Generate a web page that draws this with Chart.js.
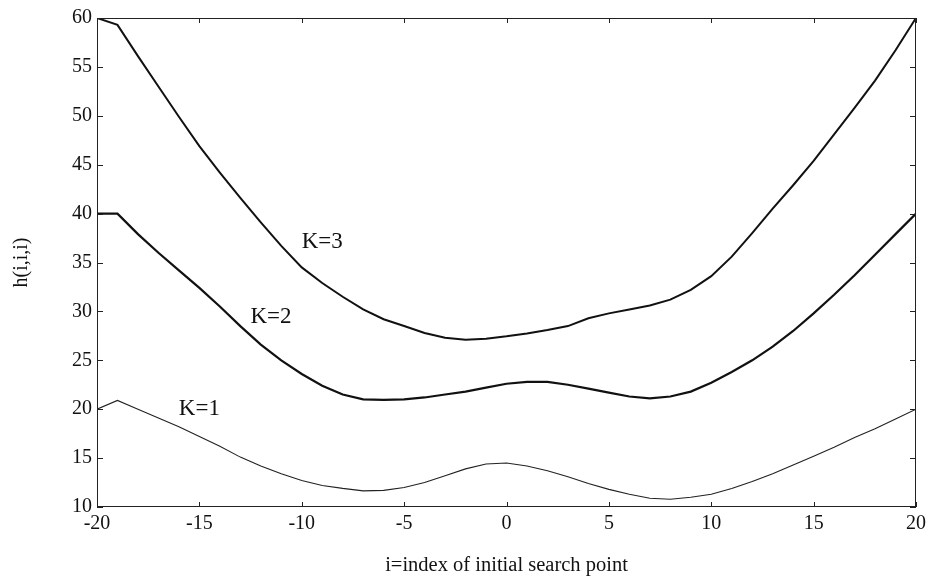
<!DOCTYPE html>
<html>
<head>
<meta charset="utf-8">
<script src="https://cdn.jsdelivr.net/npm/chart.js@4"></script>
<style>
  html, body { margin: 0; padding: 0; background: #fff; }
</style>
</head>
<body>
<canvas id="hChart" width="931" height="584"></canvas>
<script>
// i = index of initial search point
let iValues = [-20, -19, -18, -17, -16, -15, -14, -13, -12, -11, -10, -9, -8, -7, -6, -5, -4, -3, -2, -1,
               0, 1, 2, 3, 4, 5, 6, 7, 8, 9, 10, 11, 12, 13, 14, 15, 16, 17, 18, 19, 20];

let k1Data = [20.0, 20.9, 20.0, 19.1, 18.2, 17.2, 16.2, 15.1, 14.2, 13.4, 12.7, 12.2, 11.9, 11.65, 11.7, 12.0, 12.5, 13.2, 13.9, 14.4,
              14.5, 14.2, 13.7, 13.1, 12.4, 11.8, 11.3, 10.9, 10.8, 11.0, 11.3, 11.9, 12.6, 13.4, 14.3, 15.2, 16.1, 17.1, 18.0, 19.0, 20.0];

let k2Data = [40.0, 40.0, 37.9, 36.0, 34.2, 32.4, 30.5, 28.5, 26.6, 25.0, 23.6, 22.4, 21.5, 21.0, 20.95, 21.0, 21.2, 21.5, 21.8, 22.2,
              22.6, 22.8, 22.8, 22.5, 22.1, 21.7, 21.3, 21.1, 21.3, 21.8, 22.7, 23.8, 25.0, 26.4, 28.0, 29.8, 31.7, 33.7, 35.8, 37.9, 40.0];

let k3Data = [60.0, 59.3, 56.1, 53.0, 49.9, 46.9, 44.2, 41.6, 39.1, 36.7, 34.5, 32.9, 31.5, 30.2, 29.2, 28.5, 27.8, 27.3, 27.1, 27.2,
              27.45, 27.75, 28.1, 28.5, 29.3, 29.8, 30.2, 30.6, 31.2, 32.2, 33.6, 35.6, 38.0, 40.5, 42.9, 45.4, 48.1, 50.8, 53.6, 56.7, 60.0];

let xTicks = [-20, -15, -10, -5, 0, 5, 10, 15, 20];
let yTicks = [10, 15, 20, 25, 30, 35, 40, 45, 50, 55, 60];

// curve labels, placed in data coordinates
let curveLabels = [
    { text: 'K=3', x: -9.0, y: 37.1 },
    { text: 'K=2', x: -11.5, y: 29.4 },
    { text: 'K=1', x: -15.0, y: 20.0 }
];

const serif = '"Liberation Serif", "DejaVu Serif", serif';

function toPoints(ys)
{
    return iValues.map(function(x, idx){ return { x: x, y: ys[idx] }; });
}

// box round the plot with short ticks pointing inward, like the original
const framePlugin = {
    id: 'frame',
    afterDraw(chart) {
        const ctx = chart.ctx;
        const a = chart.chartArea;
        const xs = chart.scales.x;
        const ys = chart.scales.y;
        ctx.save();
        ctx.strokeStyle = '#222';
        ctx.lineWidth = 1;
        ctx.strokeRect(a.left + 0.5, a.top + 0.5, a.right - a.left - 1, a.bottom - a.top - 1);
        ctx.beginPath();
        xTicks.forEach(function(v){
            const px = Math.round(xs.getPixelForValue(v)) + 0.5;
            ctx.moveTo(px, a.bottom); ctx.lineTo(px, a.bottom - 5);
            ctx.moveTo(px, a.top); ctx.lineTo(px, a.top + 5);
        });
        yTicks.forEach(function(v){
            const py = Math.round(ys.getPixelForValue(v)) + 0.5;
            ctx.moveTo(a.left, py); ctx.lineTo(a.left + 6, py);
            ctx.moveTo(a.right, py); ctx.lineTo(a.right - 6, py);
        });
        ctx.stroke();

        ctx.fillStyle = '#111';
        ctx.font = '23px ' + serif;
        ctx.textAlign = 'center';
        ctx.textBaseline = 'middle';
        curveLabels.forEach(function(l){
            ctx.fillText(l.text, xs.getPixelForValue(l.x), ys.getPixelForValue(l.y));
        });
        ctx.restore();
    }
};

let ctx1 = document.getElementById('hChart').getContext('2d');
let myChart = new Chart(ctx1, {
    type: 'line',
    data: {
        datasets: [{
            label: 'K=3',
            data: toPoints(k3Data),
            borderColor: '#111',
            borderWidth: 2,
            pointRadius: 0,
            tension: 0
        },
        {
            label: 'K=2',
            data: toPoints(k2Data),
            borderColor: '#111',
            borderWidth: 2.2,
            pointRadius: 0,
            tension: 0
        },
        {
            label: 'K=1',
            data: toPoints(k1Data),
            borderColor: '#222',
            borderWidth: 1.1,
            pointRadius: 0,
            tension: 0
        }]
    },
    options: {
        responsive: false,
        animation: false,
        layout: {
            padding: { left: 0, right: 13, top: 18, bottom: 0 }
        },
        plugins: {
            legend: { display: false },
            tooltip: { enabled: false }
        },
        scales: {
            x: {
                type: 'linear',
                min: -20,
                max: 20,
                afterFit: function(scale){ scale.height = 77; },
                afterBuildTicks: function(scale){ scale.ticks = xTicks.map(function(v){ return { value: v }; }); },
                grid: { display: false, drawTicks: false },
                border: { display: false },
                ticks: {
                    padding: 5,
                    color: '#111',
                    font: { family: serif, size: 20 }
                },
                title: {
                    display: true,
                    text: 'i=index of initial search point',
                    color: '#111',
                    font: { family: serif, size: 20.5 },
                    padding: { top: 0, bottom: 6 }
                }
            },
            y: {
                min: 10,
                max: 60,
                afterFit: function(scale){ scale.width = 97; },
                afterBuildTicks: function(scale){ scale.ticks = yTicks.map(function(v){ return { value: v }; }); },
                grid: { display: false, drawTicks: false },
                border: { display: false },
                ticks: {
                    padding: 5,
                    color: '#111',
                    font: { family: serif, size: 20 }
                },
                title: {
                    display: true,
                    text: 'h(i,i,i)',
                    color: '#111',
                    font: { family: serif, size: 20 },
                    padding: { top: 10, bottom: 0 }
                }
            }
        }
    },
    plugins: [framePlugin]
});
</script>
</body>
</html>
